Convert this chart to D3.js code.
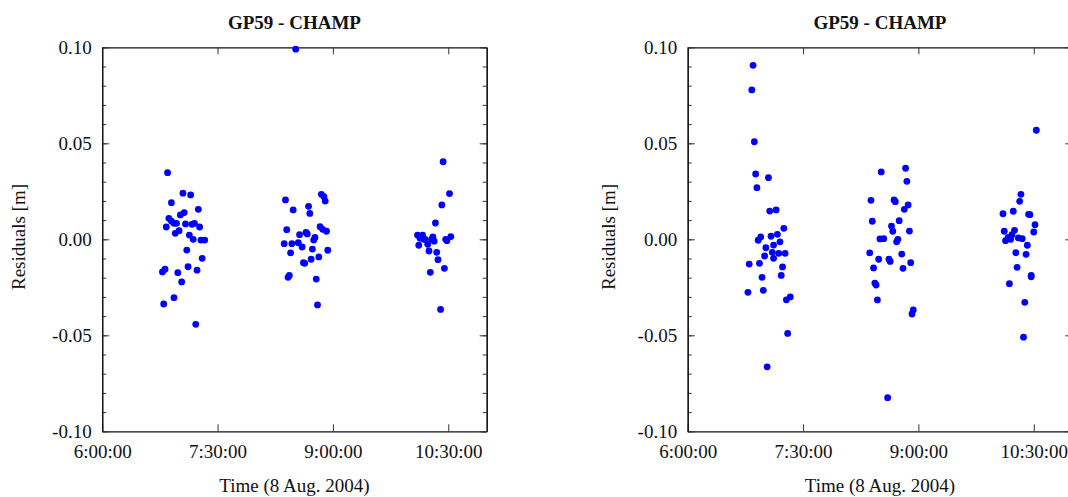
<!DOCTYPE html>
<html>
<head>
<meta charset="utf-8">
<script src="https://cdnjs.cloudflare.com/ajax/libs/d3/7.8.5/d3.min.js"></script>
<style>
  body { margin: 0; background: #fff; }
  svg { display: block; }
</style>
</head>
<body>
<script>
// Data (time of day, residual in metres)
var leftTimes = [
  "6:51","7:03","7:09","6:54","7:15","7:04","7:01","6:52","6:54","6:56","6:58","6:50","7:05","7:10","7:12","7:16","7:00",
  "6:57","7:08","7:11","7:17","7:20","7:06","7:18","7:07","7:14","6:49","6:47","6:59","7:02","6:56","6:48","7:13",
  "8:23","8:29","8:41","8:42","8:51","8:53","8:54","8:24","8:34","8:39","8:40","8:50","8:52","8:55","8:46","8:45",
  "8:22","8:28","8:33","8:36","8:44","8:56","8:27","8:37","8:38","8:43","8:49","8:26","8:25","8:47","8:48","8:31",
  "10:26","10:31","10:25","10:20","10:06","10:10","10:08","10:12","10:18","10:19","10:07","10:14","10:28","10:29",
  "10:32","10:15","10:21","10:22","10:27","10:16","10:24","10:11","10:17"
];
var leftResiduals = [
  0.0347, 0.0240, 0.0231, 0.0191, 0.0156, 0.0139, 0.0127, 0.0109, 0.0095, 0.0083, 0.0083, 0.0064, 0.0080, 0.0078, 0.0083, 0.0064, 0.0045,
  0.0031, 0.0022, 0.0000, -0.0004, -0.0004, -0.0056, -0.0099, -0.0143, -0.0161, -0.0156, -0.0170, -0.0174, -0.0222, -0.0304, -0.0337, -0.0443,
  0.0205, 0.0153, 0.0172, 0.0135, 0.0234, 0.0222, 0.0199, 0.0050, 0.0024, 0.0036, 0.0028, 0.0066, 0.0052, 0.0042, 0.0010, -0.0004,
  -0.0023, -0.0023, -0.0018, -0.0040, -0.0051, -0.0057, -0.0071, -0.0122, -0.0125, -0.0104, -0.0092, -0.0188, -0.0198, -0.0207, -0.0342, 0.0990,
  0.0404, 0.0238, 0.0179, 0.0085, 0.0022, 0.0022, 0.0005, 0.0000, 0.0012, -0.0010, -0.0031, -0.0026, 0.0000, -0.0007,
  0.0014, -0.0061, -0.0068, -0.0106, -0.0151, -0.0172, -0.0365, 0.0000, 0.0000
];

var rightTimes = [
  "6:51","6:50","6:52","6:53","7:03","6:54","7:04","7:09","7:15","7:10","7:05","6:57","6:55","7:12","7:07","7:01",
  "7:06","7:11","7:16","7:00","7:07","6:48","6:56","7:14","7:13","6:58","6:47","6:59","7:20","7:17","7:18","7:02",
  "8:31","8:50","8:51","8:23","8:41","8:42","8:52","8:49","8:24","8:45","8:39","8:40","8:53","8:30","8:33","8:44",
  "8:43","8:22","8:29","8:37","8:38","8:47","8:25","8:48","8:54","8:26","8:27","8:28","8:56","8:55","8:36",
  "10:32","10:20","10:19","10:06","10:14","10:26","10:27","10:31","10:30","10:07","10:15","10:13","10:10",
  "10:08","10:12","10:18","10:21","10:25","10:16","10:24","10:17","10:28","10:28","10:11","10:23","10:22"
];
var rightResiduals = [
  0.0906, 0.0778, 0.0508, 0.0340, 0.0321, 0.0269, 0.0147, 0.0153, 0.0057, 0.0026, 0.0016, 0.0012, -0.0005, -0.0013, -0.0030, -0.0044,
  -0.0068, -0.0073, -0.0073, -0.0087, -0.0099, -0.0129, -0.0125, -0.0144, -0.0188, -0.0198, -0.0276, -0.0266, -0.0300, -0.0315, -0.0490, -0.0664,
  0.0351, 0.0370, 0.0302, 0.0203, 0.0205, 0.0196, 0.0179, 0.0156, 0.0094, 0.0097, 0.0069, 0.0042, 0.0043, 0.0002, 0.0003, 0.0000,
  -0.0013, -0.0071, -0.0104, -0.0104, -0.0115, -0.0077, -0.0149, -0.0151, -0.0122, -0.0228, -0.0238, -0.0316, -0.0368, -0.0389, -0.0825,
  0.0568, 0.0234, 0.0198, 0.0133, 0.0146, 0.0130, 0.0128, 0.0076, 0.0038, 0.0042, 0.0047, 0.0024, 0.0010,
  -0.0007, 0.0000, 0.0007, 0.0003, -0.0031, -0.0070, -0.0078, -0.0146, -0.0195, -0.0188, -0.0231, -0.0328, -0.0510
];

// Axis settings and labels
var timeDomain = ["6:00", "11:00"];
var timeTicks = ["6:00", "7:30", "9:00", "10:30"];
var residualTicks = [-0.10, -0.05, 0.00, 0.05, 0.10];
var residualMinorTicks = d3.range(-10, 11).map(d => d / 100);
var chartTitle = "GP59 - CHAMP";
var xLabel = "Time (8 Aug. 2004)";
var yLabel = "Residuals [m]";

// SVG area
var svgWidth = 1068;
var svgHeight = 497;
var plotWidth = 384.5;
var plotHeight = 384;
var font = "'Liberation Serif', 'Times New Roman', serif";
var fontSize = "19px";

var parseTime = d3.timeParse("%H:%M");
var formatTime = d3.timeFormat("%-H:%M:%S");

var svg = d3.select("body")
    .append("svg")
    .attr("width", svgWidth)
    .attr("height", svgHeight);

function drawPanel(left, top, labelOffset, times, residuals) {
    var g = svg.append("g")
        .attr("transform", `translate(${left}, ${top})`);

    var x = d3.scaleTime()
        .domain(timeDomain.map(parseTime))
        .range([0, plotWidth]);

    var y = d3.scaleLinear()
        .domain([-0.1, 0.1])
        .range([plotHeight, 0]);

    var tickDates = timeTicks.map(parseTime);

    // bottom axis with labels, ticks pointing inward
    var bottom = g.append("g")
        .attr("transform", `translate(0, ${plotHeight})`)
        .call(d3.axisBottom(x).tickValues(tickDates).tickFormat(formatTime)
            .tickSizeInner(-7).tickSizeOuter(0).tickPadding(13.5));

    // top axis, ticks only
    var topAx = g.append("g")
        .call(d3.axisTop(x).tickValues(tickDates.slice(1)).tickFormat("")
            .tickSizeInner(-7).tickSizeOuter(0));

    // minor y ticks on both sides
    var leftMinor = g.append("g")
        .call(d3.axisLeft(y).tickValues(residualMinorTicks).tickFormat("")
            .tickSizeInner(-4).tickSizeOuter(0));
    var rightMinor = g.append("g")
        .attr("transform", `translate(${plotWidth}, 0)`)
        .call(d3.axisRight(y).tickValues(residualMinorTicks).tickFormat("")
            .tickSizeInner(-4).tickSizeOuter(0));

    // major y ticks
    var leftAx = g.append("g")
        .call(d3.axisLeft(y).tickValues(residualTicks).tickFormat(d => d.toFixed(2))
            .tickSizeInner(-7).tickSizeOuter(0).tickPadding(10.5));
    var rightAx = g.append("g")
        .attr("transform", `translate(${plotWidth}, 0)`)
        .call(d3.axisRight(y).tickValues(residualTicks).tickFormat("")
            .tickSizeInner(-7).tickSizeOuter(0));

    [bottom, topAx, leftMinor, rightMinor, leftAx, rightAx].forEach(a => {
        a.selectAll("path.domain").attr("stroke", "#111").attr("stroke-width", 1.2);
        a.selectAll(".tick line").attr("stroke", "#333").attr("stroke-width", 1);
        a.selectAll("text")
            .attr("font-family", font)
            .attr("font-size", fontSize)
            .attr("fill", "#111");
    });

    // points
    g.selectAll(".pt")
        .data(times.map((t, i) => ({ time: parseTime(t), value: residuals[i] })))
        .enter()
        .append("circle")
        .attr("class", "pt")
        .attr("cx", d => x(d.time))
        .attr("cy", d => y(d.value))
        .attr("r", 3.4)
        .attr("fill", "#0000ff");

    // title
    g.append("text")
        .attr("x", plotWidth / 2)
        .attr("y", 28.5 - top)
        .attr("text-anchor", "middle")
        .attr("font-family", font)
        .attr("font-weight", "bold")
        .attr("font-size", fontSize)
        .attr("fill", "#111")
        .text(chartTitle);

    // axis titles
    g.append("text")
        .attr("x", plotWidth / 2)
        .attr("y", 492 - top)
        .attr("text-anchor", "middle")
        .attr("font-family", font)
        .attr("font-size", fontSize)
        .attr("fill", "#111")
        .text(xLabel);

    g.append("text")
        .attr("transform", `translate(${-labelOffset}, ${237 - top}) rotate(-90)`)
        .attr("text-anchor", "middle")
        .attr("font-family", font)
        .attr("font-size", fontSize)
        .attr("fill", "#111")
        .text(yLabel);
}

drawPanel(102.2, 47.3, 77, leftTimes, leftResiduals);
drawPanel(687.7, 47.3, 73, rightTimes, rightResiduals);
</script>
</body>
</html>
